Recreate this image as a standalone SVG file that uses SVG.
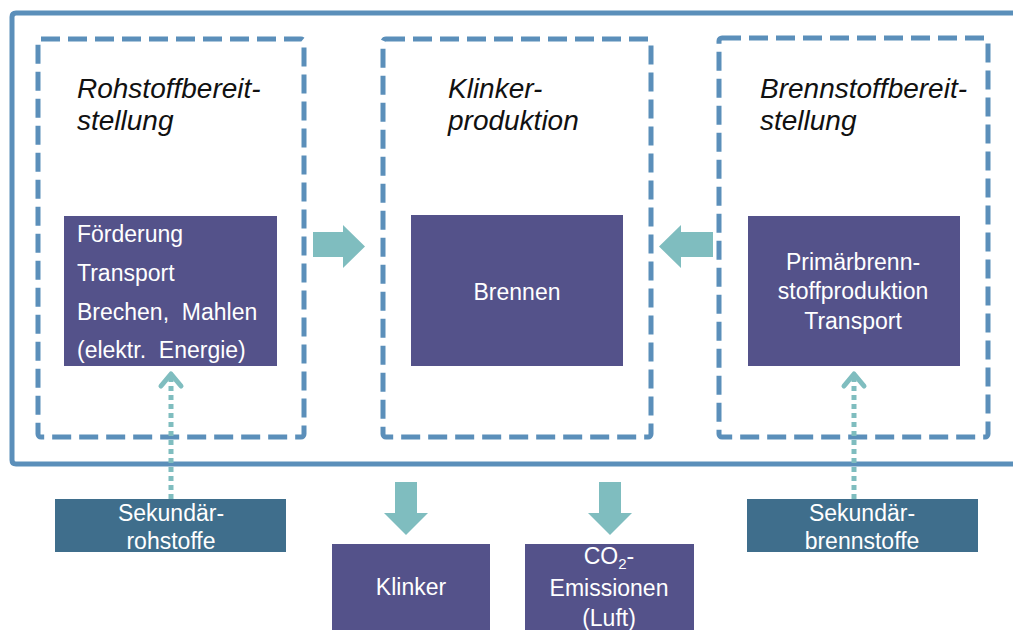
<svg xmlns="http://www.w3.org/2000/svg" width="1013" height="630" viewBox="0 0 1013 630">
<style>
.frame{fill:none;stroke:#5b8fba;stroke-width:5}
.dash{fill:none;stroke:#5b8fba;stroke-width:5;stroke-dasharray:19 8}
.proc{fill:#54528a}
.sec{fill:#3f6e8c}
.big{fill:#7fbdbf}
.dot{fill:none;stroke:#7fbdbf;stroke-width:5;stroke-dasharray:5 4}
.chev{fill:none;stroke:#7fbdbf;stroke-width:5;stroke-linecap:round;stroke-linejoin:round}
.title{font-family:"Liberation Sans",Arial,sans-serif;font-style:italic;font-size:28px;fill:#111}
.wt{font-family:"Liberation Sans",Arial,sans-serif;font-size:23px;fill:#fff}
</style>
<rect width="1013" height="630" fill="#fff"/>
<path class="frame" d="M1020 13 H16 Q12 13 12 17 V460 Q12 464 16 464 H1020"/>
<g id="rohstoff">
<rect class="dash" x="38" y="39" width="266" height="398" rx="3"/>
<text class="title" x="77" y="98">Rohstoffbereit-</text>
<text class="title" x="77" y="130">stellung</text>
<rect class="proc" x="64" y="216" width="213" height="150"/>
<text class="wt" x="77" y="242" xml:space="preserve">Förderung</text>
<text class="wt" x="77" y="281" xml:space="preserve">Transport</text>
<text class="wt" x="77" y="320" xml:space="preserve">Brechen,  Mahlen</text>
<text class="wt" x="77" y="358" xml:space="preserve">(elektr.  Energie)</text>
</g>
<g id="klinkerproduktion">
<rect class="dash" x="383" y="39" width="268" height="398" rx="3"/>
<text class="title" x="448" y="98">Klinker-</text>
<text class="title" x="448" y="130">produktion</text>
<rect class="proc" x="411" y="215" width="212" height="151"/>
<text class="wt" x="517" y="300" text-anchor="middle">Brennen</text>
</g>
<g id="brennstoff">
<rect class="dash" x="719" y="38" width="269" height="399" rx="3"/>
<text class="title" x="760" y="98">Brennstoffbereit-</text>
<text class="title" x="760" y="130">stellung</text>
<rect class="proc" x="748" y="216" width="212" height="150"/>
<text class="wt" x="853" y="270" text-anchor="middle">Primärbrenn-</text>
<text class="wt" x="853" y="299" text-anchor="middle">stoffproduktion</text>
<text class="wt" x="853" y="329" text-anchor="middle">Transport</text>
</g>
<g id="sekrohstoffe">
<rect class="sec" x="55" y="499" width="231" height="53"/>
<text class="wt" x="171" y="521" text-anchor="middle">Sekundär-</text>
<text class="wt" x="171" y="549" text-anchor="middle">rohstoffe</text>
</g>
<g id="sekbrennstoffe">
<rect class="sec" x="747" y="499" width="231" height="53"/>
<text class="wt" x="862" y="521" text-anchor="middle">Sekundär-</text>
<text class="wt" x="862" y="549" text-anchor="middle">brennstoffe</text>
</g>
<g id="klinker">
<rect class="proc" x="332" y="544" width="158" height="90"/>
<text class="wt" x="411" y="595" text-anchor="middle">Klinker</text>
</g>
<g id="co2">
<rect class="proc" x="525" y="544" width="169" height="90"/>
<text class="wt" x="609" y="564" text-anchor="middle">CO<tspan font-size="15" dy="5">2</tspan><tspan dy="-5">-</tspan></text>
<text class="wt" x="609" y="596" text-anchor="middle">Emissionen</text>
<text class="wt" x="609" y="626" text-anchor="middle">(Luft)</text>
</g>
<g id="connectors">
<polygon class="big" points="313,232 343,232 343,225 365,246.5 343,268 343,257 313,257"/>
<polygon class="big" points="713,232 681,232 681,225 659,246.5 681,268 681,257 713,257"/>
<polygon class="big" points="395,482 417,482 417,513 428,513 406,535 384,513 395,513"/>
<polygon class="big" points="599,482 621,482 621,513 632,513 610,535 588,513 599,513"/>
<line class="dot" x1="171" y1="499" x2="171" y2="378"/>
<polyline class="chev" points="161,386 171,374 181,386"/>
<line class="dot" x1="854" y1="499" x2="854" y2="378"/>
<polyline class="chev" points="844,386 854,374 864,386"/>
</g>
</svg>
